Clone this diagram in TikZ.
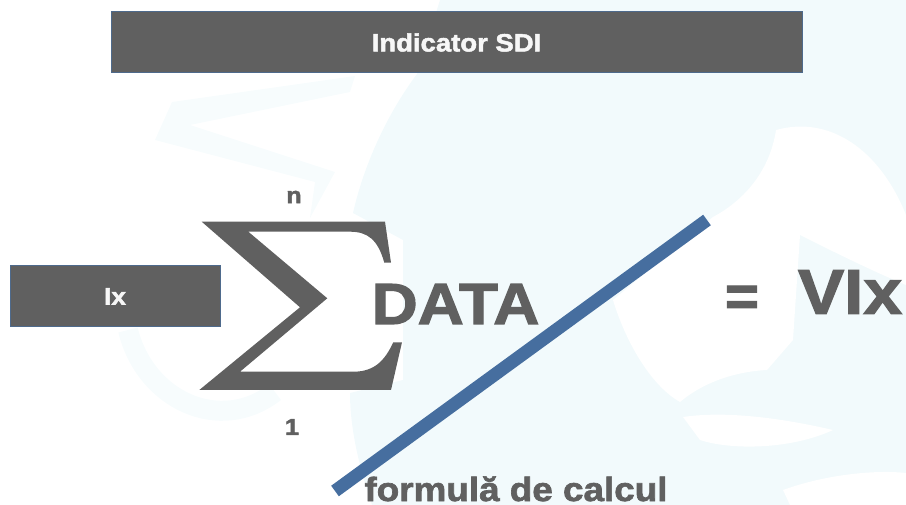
\documentclass[tikz,border=0pt]{standalone}
\usepackage{fontspec}
\setmainfont[BoldFeatures={FakeBold=2}]{Liberation Sans}
\newfontfamily\widefont[BoldFeatures={FakeBold=2,FakeStretch=1.1}]{Liberation Sans}
\definecolor{boxgray}{HTML}{606060}
\definecolor{slashblue}{HTML}{466E9F}
\definecolor{globeblue}{HTML}{F2FAFC}
\definecolor{ringblue}{HTML}{F7FCFD}
\tikzset{
  graybox/.style={fill=boxgray,draw=slashblue!70!boxgray,line width=1pt,text=white!95!boxgray,inner sep=0pt},
  graytext/.style={text=boxgray,inner sep=0pt}
}
\begin{document}
\begin{tikzpicture}[x=1pt,y=-1pt]
\useasboundingbox (0,0) rectangle (906,505);
%globe in the background
\fill[globeblue] (353,213) .. controls (365,160) and (390,110) .. (417,74) -- (440,0) -- (906,0) -- (906,505)
  -- (372,505) .. controls (360,470) and (350,430) .. (350,393) -- (403,380) -- (403,240) -- cycle;
\fill[ringblue] (155,140) -- (172,102) -- (355,76) -- (350,92) -- (190,125) -- (335,172) -- (310,218) -- (315,182) -- cycle;
\draw[ringblue,line width=20pt] (128,330) .. controls (145,400) and (220,435) .. (275,392);
%continents
\fill[white] (776,130) .. controls (830,115) and (880,150) .. (906,215) -- (906,285) .. controls (870,270) and (830,250) .. (800,235)
  -- (793,340) -- (767,370) .. controls (730,372) and (700,385) .. (680,402) .. controls (650,385) and (625,340) .. (613,300)
  -- (713,217) .. controls (745,200) and (770,170) .. cycle;
\fill[white] (683,417) .. controls (730,410) and (790,420) .. (833,430) .. controls (790,450) and (730,450) .. (700,440) -- cycle;
\fill[white] (783,490) .. controls (830,473) and (880,470) .. (906,473) -- (906,505) -- (790,505) -- cycle;
\node [graybox,font=\widefont\bfseries\fontsize{25}{28}\selectfont,minimum width=691pt,minimum height=61pt] (title) at (456.5,42.5) {Indicator SDI};
\node [graybox,font=\widefont\bfseries\fontsize{24}{28}\selectfont,minimum width=210pt,minimum height=61pt] (ix) at (115,296.5) {Ix};
%sum sign
\fill[boxgray] (201.7,221.7)--(385,221.7)--(391,262.7)--(384.3,262.7)
  .. controls (378,240) and (368,231.7) .. (350,231.7)
  --(248.3,231.7)--(327.3,298.3)--(240,371.7)--(353.3,371.7)
  .. controls (375,371.7) and (385,360) .. (393.3,342.3)
  --(402,342.3)--(391,390)--(199.3,390)--(300,307.3)--cycle;
\node [graytext,font=\widefont\bfseries\fontsize{23}{25}\selectfont] (upper) at (294,197) {n};
\node [graytext,font=\widefont\bfseries\fontsize{23}{25}\selectfont] (lower) at (292,427) {1};
\node [graytext,font=\widefont\bfseries\fontsize{58}{60}\selectfont] (data) at (455.5,304) {DATA};
\coordinate (slashlow) at (335,491);
\coordinate (slashhigh) at (707,220);
\draw [slashblue,line width=13pt] (slashlow)--(slashhigh);
\node [graytext,font=\bfseries\fontsize{58}{60}\selectfont] (equals) at (742,301) {=};
\node [graytext,font=\widefont\bfseries\fontsize{63}{65}\selectfont] (result) at (850,292) {VIx};
\node [graytext,anchor=base,font=\widefont\bfseries\fontsize{33.5}{36}\selectfont] (formula) at (516,501) {formulă de calcul};
\end{tikzpicture}
\end{document}
